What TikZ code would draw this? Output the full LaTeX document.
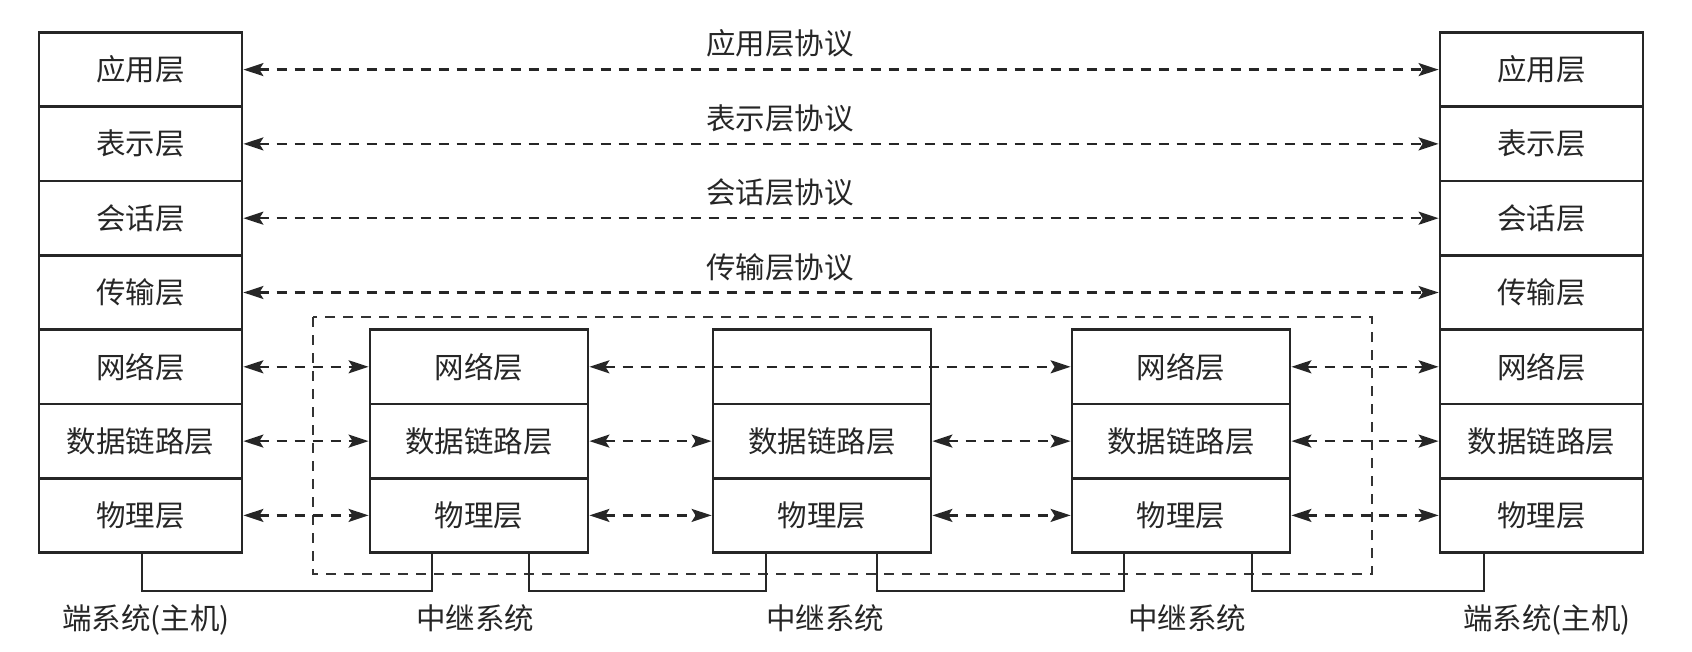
\documentclass[tikz,border=0pt]{standalone}
\usepackage{fontspec}
\setmainfont{Noto Sans CJK SC}
\usetikzlibrary{arrows.meta,calc}
\begin{document}
\begin{tikzpicture}[x=1pt,y=-1pt,
  txt/.style={inner sep=0pt, font=\fontsize{29.5}{34}\selectfont, text=black!85},
  layer/.style={txt, draw=black!85, line width=2.8pt, minimum width=203pt, minimum height=74.3pt},
  rlayer/.style={layer, minimum width=218pt},
  proto/.style={draw=black!85, line width=2.3pt, dash pattern=on 10pt off 8pt, <->, >={Stealth[length=20pt,width=13pt,inset=4pt]}},
  frame/.style={draw=black!80, line width=1.9pt, dash pattern=on 10pt off 8pt},
  wire/.style={draw=black!85, line width=1.9pt}]
\useasboundingbox (0,0) rectangle (1692,652);
% left host
\node[layer] (L1) at (140.5,69.6) {应用层};
\node[layer] (L2) at (140.5,143.9) {表示层};
\node[layer] (L3) at (140.5,218.2) {会话层};
\node[layer] (L4) at (140.5,292.5) {传输层};
\node[layer] (L5) at (140.5,366.8) {网络层};
\node[layer] (L6) at (140.5,441.1) {数据链路层};
\node[layer] (L7) at (140.5,515.4) {物理层};
% right host
\node[layer] (H1) at (1541.5,69.6) {应用层};
\node[layer] (H2) at (1541.5,143.9) {表示层};
\node[layer] (H3) at (1541.5,218.2) {会话层};
\node[layer] (H4) at (1541.5,292.5) {传输层};
\node[layer] (H5) at (1541.5,366.8) {网络层};
\node[layer] (H6) at (1541.5,441.1) {数据链路层};
\node[layer] (H7) at (1541.5,515.4) {物理层};
% relay 1
\node[rlayer] (A5) at (479,366.8) {网络层};
\node[rlayer] (A6) at (479,441.1) {数据链路层};
\node[rlayer] (A7) at (479,515.4) {物理层};
% relay 2
\node[rlayer] (B5) at (822,366.8) {};
\node[rlayer] (B6) at (822,441.1) {数据链路层};
\node[rlayer] (B7) at (822,515.4) {物理层};
% relay 3
\node[rlayer] (C5) at (1181,366.8) {网络层};
\node[rlayer] (C6) at (1181,441.1) {数据链路层};
\node[rlayer] (C7) at (1181,515.4) {物理层};
% dashed frame round the relay systems
\draw[frame] (313,317) rectangle (1372,574);
% protocol labels
\node[txt] (p1) at (780,43) {应用层协议};
\node[txt] (p2) at (780,118) {表示层协议};
\node[txt] (p3) at (780,192) {会话层协议};
\node[txt] (p4) at (780,267) {传输层协议};
% peer protocol arrows
\draw[proto] (L1.east) -- (H1.west);
\draw[proto] (L2.east) -- (H2.west);
\draw[proto] (L3.east) -- (H3.west);
\draw[proto] (L4.east) -- (H4.west);
\draw[proto] (L5.east) -- (A5.west);
\draw[proto] (A5.east) -- (C5.west);
\draw[proto] (C5.east) -- (H5.west);
\draw[proto] (L6.east) -- (A6.west);
\draw[proto] (A6.east) -- (B6.west);
\draw[proto] (B6.east) -- (C6.west);
\draw[proto] (C6.east) -- (H6.west);
\draw[proto] (L7.east) -- (A7.west);
\draw[proto] (A7.east) -- (B7.west);
\draw[proto] (B7.east) -- (C7.west);
\draw[proto] (C7.east) -- (H7.west);
% physical links
\draw[wire] ($(L7.south)+(1.5,0)$) -- ++(0,37.4) -| ($(A7.south west)+(63,0)$);
\draw[wire] ($(A7.south east)+(-60,0)$) -- ++(0,37.4) -| ($(B7.south west)+(54,0)$);
\draw[wire] ($(B7.south east)+(-55,0)$) -- ++(0,37.4) -| ($(C7.south west)+(53,0)$);
\draw[wire] ($(C7.south east)+(-39,0)$) -- ++(0,37.4) -| ($(H7.south west)+(45,0)$);
% system labels
\node[txt] (s1) at (146,620) {端系统(主机)};
\node[txt] (s2) at (475,618) {中继系统};
\node[txt] (s3) at (825,618) {中继系统};
\node[txt] (s4) at (1187,618) {中继系统};
\node[txt] (s5) at (1547,620) {端系统(主机)};
\end{tikzpicture}
\end{document}
